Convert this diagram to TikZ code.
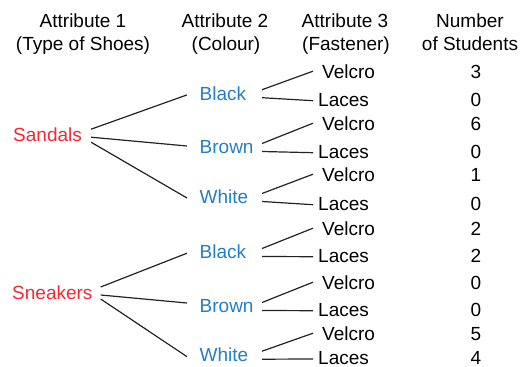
\documentclass[tikz,border=0pt]{standalone}
\usepackage{fontspec}
\setmainfont{Liberation Sans}
\definecolor{shoered}{RGB}{245,40,50}
\definecolor{colblue}{RGB}{35,125,200}
\definecolor{linegray}{RGB}{35,35,35}
\newcommand{\lblfont}{\fontsize{19}{23}\selectfont}
\tikzset{
  txt/.style={font=\lblfont, inner sep=0pt, text height=13.6pt, text depth=0pt},
  hdr/.style={txt, anchor=base},
  lbl/.style={txt, anchor=base west},
  shoe/.style={lbl, text=shoered},
  colr/.style={lbl, text=colblue},
  fast/.style={lbl},
  num/.style={txt, anchor=base},
  conn/.style={draw=linegray, line width=1.2pt}
}
\begin{document}
\begin{tikzpicture}[x=1pt,y=-1pt]
\useasboundingbox (0,0) rectangle (523,367);
% headers
\node[hdr] (h1a) at (83,27) {Attribute 1};
\node[hdr] (h1b) at (83,50.5) {(Type of Shoes)};
\node[hdr] (h2a) at (225,27) {Attribute 2};
\node[hdr] (h2b) at (226,50.5) {(Colour)};
\node[hdr] (h3a) at (345,27) {Attribute 3};
\node[hdr] (h3b) at (346,50.5) {(Fastener)};
\node[hdr] (h4a) at (470,27) {Number};
\node[hdr] (h4b) at (470,50.5) {of Students};
% shoes
\node[shoe] (sa) at (13,141.7) {Sandals};
\node[shoe] (sn) at (12,299.8) {Sneakers};
% colours
\node[colr] (c1) at (199.5,100) {Black};
\node[colr] (c2) at (199.5,153.8) {Brown};
\node[colr] (c3) at (199.5,203.8) {White};
\node[colr] (c4) at (199.5,258.8) {Black};
\node[colr] (c5) at (199.5,312.8) {Brown};
\node[colr] (c6) at (199.5,361.5) {White};
% fasteners
\node[fast] (v1) at (322,78) {Velcro};
\node[fast] (l1) at (318,106) {Laces};
\node[fast] (v2) at (322,130) {Velcro};
\node[fast] (l2) at (318,158) {Laces};
\node[fast] (v3) at (322,181) {Velcro};
\node[fast] (l3) at (318,210) {Laces};
\node[fast] (v4) at (322,235) {Velcro};
\node[fast] (l4) at (318,262) {Laces};
\node[fast] (v5) at (322,289) {Velcro};
\node[fast] (l5) at (318,316) {Laces};
\node[fast] (v6) at (322,340) {Velcro};
\node[fast] (l6) at (318,364.3) {Laces};
% numbers
\node[num] (n1) at (476,78) {3};
\node[num] (n2) at (476,106) {0};
\node[num] (n3) at (476,130) {6};
\node[num] (n4) at (476,158) {0};
\node[num] (n5) at (476,181) {1};
\node[num] (n6) at (476,210) {0};
\node[num] (n7) at (476,235) {2};
\node[num] (n8) at (476,262) {2};
\node[num] (n9) at (476,289) {0};
\node[num] (n10) at (476,316) {0};
\node[num] (n11) at (476,340) {5};
\node[num] (n12) at (476,364.3) {4};
% shoe -> colour
\draw[conn] ([shift={(9,-5.7)}]sa.east) -- ([shift={(-12.5,1.7)}]c1.west);
\draw[conn] ([shift={(9,2.3)}]sa.east) -- ([shift={(-12.5,-1)}]c2.west);
\draw[conn] ([shift={(9,7.3)}]sa.east) -- ([shift={(-12.5,1)}]c3.west);
\draw[conn] ([shift={(8,-6)}]sn.east) -- ([shift={(-12.5,1.2)}]c4.west);
\draw[conn] ([shift={(8,2)}]sn.east) -- ([shift={(-12.5,-3)}]c5.west);
\draw[conn] ([shift={(8,6)}]sn.east) -- ([shift={(-12.5,2)}]c6.west);
% colour -> fastener
\foreach \c/\v/\l in {c1/v1/l1,c2/v2/l2,c3/v3/l3,c4/v4/l4,c5/v5/l5,c6/v6/l6}{
  \draw[conn] ([shift={(62.5,-3.5)}]\c.west) -- ([shift={(-9,0)}]\v.west);
  \draw[conn] ([shift={(62.5,4.5)}]\c.west) -- ([shift={(-5,1.5)}]\l.west);
}
\end{tikzpicture}
\end{document}
